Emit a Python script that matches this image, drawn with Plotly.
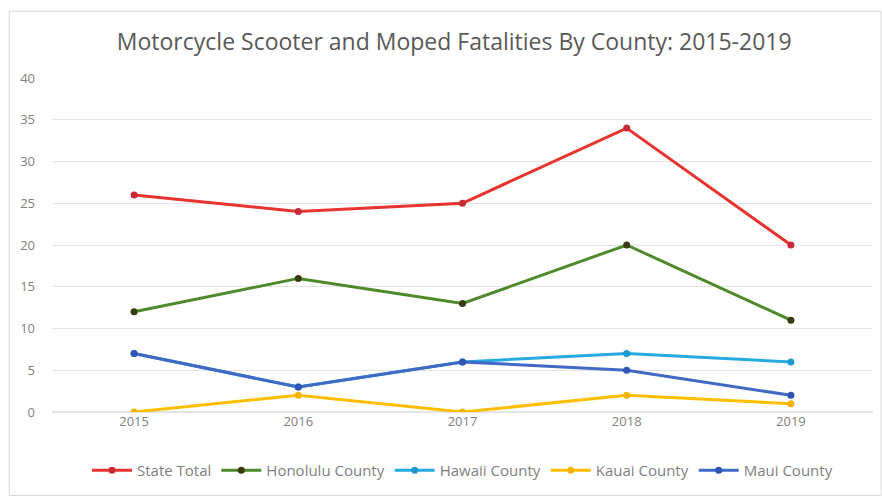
import plotly.graph_objects as go

years = ["2015", "2016", "2017", "2018", "2019"]
state_total = [26, 24, 25, 34, 20]
honolulu = [12, 16, 13, 20, 11]
hawaii = [7, 3, 6, 7, 6]
kauai = [0, 2, 0, 2, 1]
maui = [7, 3, 6, 5, 2]

series = [
    ("State Total", state_total, "#E8332F", "#C8283A"),
    ("Honolulu County", honolulu, "#4E8A2C", "#3A3A10"),
    ("Hawaii County", hawaii, "#27AAE1", "#1E9AD0"),
    ("Kauai County", kauai, "#FFBF00", "#F5B400"),
    ("Maui County", maui, "#4169C5", "#2F55B5"),
]

fig = go.Figure()
for name, vals, lc, mc in series:
    fig.add_trace(go.Scatter(
        x=years, y=vals, name=name, mode="lines+markers",
        line=dict(color=lc, width=3),
        marker=dict(color=mc, size=7),
    ))

fig.update_layout(
    width=882, height=496,
    margin=dict(l=52, r=9, t=78, b=81),
    paper_bgcolor="white", plot_bgcolor="white",
    title=dict(text="Motorcycle Scooter and Moped Fatalities By County: 2015-2019",
               x=0.515, xanchor="center", y=0.915, yanchor="middle",
               font=dict(family="Open Sans", size=23, color="#595959")),
    font=dict(family="Open Sans", color="#7F7F7F", size=13),
    xaxis=dict(type="category", range=[-0.5, 4.5], showgrid=False, showline=False,
               zeroline=False, ticks="", tickfont=dict(size=13, color="#7F7F7F")),
    yaxis=dict(range=[0, 40], dtick=5, showgrid=True, gridcolor="#E4E4E4",
               gridwidth=1, zeroline=True, zerolinecolor="#E4E4E4",
               ticks="", ticklabelstandoff=16, tickfont=dict(size=13, color="#7F7F7F")),
    legend=dict(orientation="h", x=0.5, xanchor="center", y=-0.175, yanchor="middle",
                font=dict(size=15, color="#7F7F7F"), itemwidth=40, tracegroupgap=0),
    showlegend=True,
    shapes=[dict(type="rect", xref="paper", yref="paper", x0=-0.052, x1=1.01,
                 y0=-0.25, y1=1.2, line=dict(color="#D9D9D9", width=1))],
)

fig.write_html("out.html")
